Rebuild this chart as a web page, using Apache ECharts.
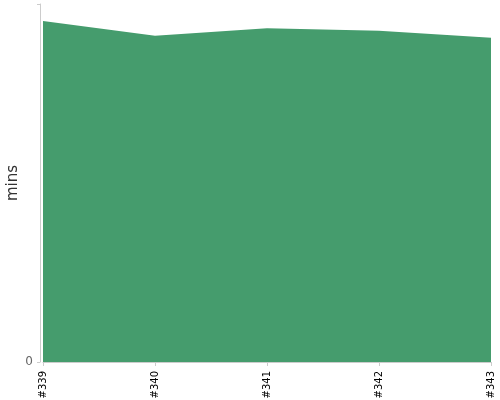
<!DOCTYPE html>
<html>
<head>
<meta charset="utf-8">
<script src="https://cdn.jsdelivr.net/npm/echarts@6/dist/echarts.min.js"></script>
<style>html,body{margin:0;padding:0;background:#fff}#c{width:500px;height:400px}</style>
</head>
<body>
<div id="c"></div>
<script>
const categories = ['#339', '#340', '#341', '#342', '#343'];
const minsValues = [38.1, 36.46, 37.3, 37.0, 36.24];
const yMax = 40;

const chart = echarts.init(document.getElementById('c'), null, {renderer: 'canvas'});
chart.setOption({
  animation: false,
  grid: {left: 43, right: 9, top: 4, bottom: 38, containLabel: false, outerBoundsMode: 'none'},
  xAxis: {
    type: 'category',
    data: categories,
    boundaryGap: false,
    offset: 4,
    axisLine: {lineStyle: {color: '#ccc'}},
    axisTick: {alignWithLabel: true, length: 4, lineStyle: {color: '#ccc'}},
    axisLabel: {rotate: 90, fontSize: 10, color: '#000', margin: 5, fontFamily: 'DejaVu Sans'}
  },
  yAxis: {
    type: 'value',
    min: 0,
    max: yMax,
    interval: yMax,
    offset: 3,
    name: 'mins',
    nameLocation: 'middle',
    nameGap: 19,
    nameMoveOverlap: false,
    nameTextStyle: {fontSize: 15, color: '#333', fontFamily: 'DejaVu Sans'},
    axisLine: {show: true, lineStyle: {color: '#ccc'}},
    axisTick: {show: true, length: 3, lineStyle: {color: '#ccc'}},
    splitLine: {show: false},
    axisLabel: {
      fontSize: 12, color: '#666', margin: 7, fontFamily: 'DejaVu Sans',
      formatter: v => v === 0 ? '0' : ''
    }
  },
  series: [{
    type: 'line',
    data: minsValues,
    symbol: 'none',
    lineStyle: {width: 0},
    areaStyle: {color: '#459c6d', opacity: 1}
  }]
});
</script>
</body>
</html>
